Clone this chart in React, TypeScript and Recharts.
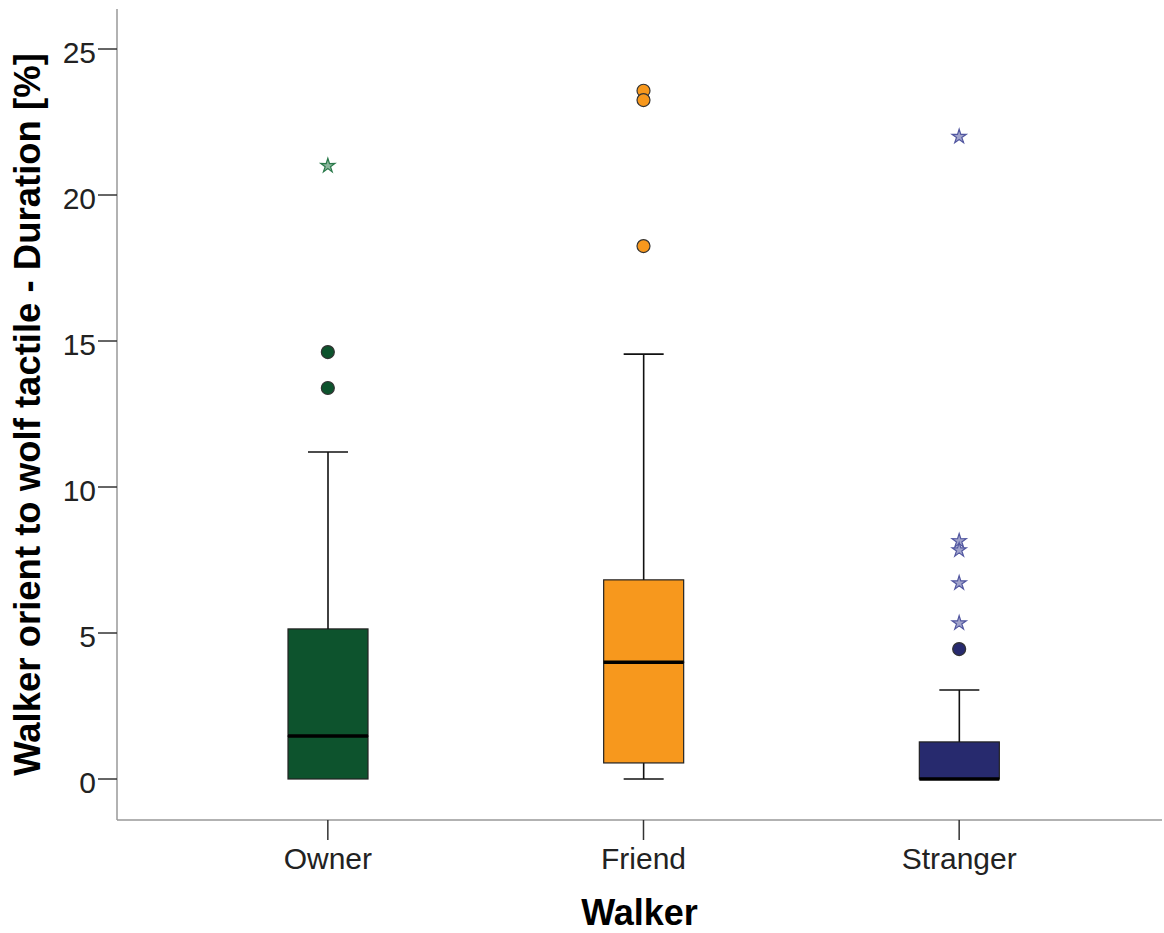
import { Bar, ComposedChart, Label, Scatter, XAxis, YAxis } from "recharts";

const walkers = ["Owner", "Friend", "Stranger"];
const whiskerLow = [0, 0, 0];
const quartile1 = [0, 0.55, 0];
const medians = [1.47, 4.0, 0];
const quartile3 = [5.14, 6.82, 1.27];
const whiskerHigh = [11.2, 14.55, 3.05];
const outlierValues = [[14.62, 13.39], [23.57, 23.25, 18.25], [4.45]];
const extremeValues = [[21.0], [], [22.0, 8.15, 7.84, 6.71, 5.34]];
const yTicks = [0, 5, 10, 15, 20, 25];

const boxFill: Record<string, string> = { Owner: "#0d532d", Friend: "#f7981d", Stranger: "#272a6e" };
const starColor: Record<string, string> = { Owner: "#2b7a4b", Friend: "#f7981d", Stranger: "#5257a0" };

const FONT = "'Liberation Sans', Arial, sans-serif";
const CAP = 20;

// stacked segments: base -> lower whisker -> lower half box -> upper half box -> upper whisker
const boxData = walkers.map((name, i) => ({
  name,
  base: whiskerLow[i],
  lowerWhisker: quartile1[i] - whiskerLow[i],
  lowerBox: medians[i] - quartile1[i],
  upperBox: quartile3[i] - medians[i],
  upperWhisker: whiskerHigh[i] - quartile3[i],
}));

const circleData = walkers.flatMap((name, i) => outlierValues[i].map((value) => ({ name, value })));
const starData = walkers.flatMap((name, i) => extremeValues[i].map((value) => ({ name, value })));

const LowerWhisker = (p: any) => {
  const { x, y, width, height } = p;
  if (!height || height <= 0) return <g />;
  const cx = x + width / 2;
  return (
    <g stroke="#111" strokeWidth={1.6}>
      <line x1={cx} x2={cx} y1={y} y2={y + height} />
      <line x1={cx - CAP} x2={cx + CAP} y1={y + height} y2={y + height} />
    </g>
  );
};

const UpperWhisker = (p: any) => {
  const { x, y, width, height } = p;
  if (!height || height <= 0) return <g />;
  const cx = x + width / 2;
  return (
    <g stroke="#111" strokeWidth={1.6}>
      <line x1={cx} x2={cx} y1={y} y2={y + height} />
      <line x1={cx - CAP} x2={cx + CAP} y1={y} y2={y} />
    </g>
  );
};

const LowerBox = (p: any) => {
  const { x, y, width, height, payload } = p;
  if (!height || height <= 0) return <g />;
  return <rect x={x} y={y} width={width} height={height} fill={boxFill[payload.name]} stroke="#222" strokeWidth={1.2} />;
};

const UpperBox = (p: any) => {
  const { x, y, width, height, payload } = p;
  if (!height || height <= 0) return <g />;
  return (
    <g>
      <rect x={x} y={y} width={width} height={height} fill={boxFill[payload.name]} stroke="#222" strokeWidth={1.2} />
      <line x1={x} x2={x + width} y1={y + height} y2={y + height} stroke="#000" strokeWidth={3.5} />
    </g>
  );
};

const CircleDot = (p: any) => (
  <circle cx={p.cx} cy={p.cy} r={6.5} fill={boxFill[p.payload.name]} stroke="#333" strokeWidth={1.2} />
);

const StarDot = (p: any) => {
  const pts: string[] = [];
  for (let k = 0; k < 10; k++) {
    const r = k % 2 === 0 ? 7.5 : 2.8;
    const a = -Math.PI / 2 + (k * Math.PI) / 5;
    pts.push(`${p.cx + r * Math.cos(a)},${p.cy + r * Math.sin(a)}`);
  }
  const c = starColor[p.payload.name];
  return <polygon points={pts.join(" ")} fill={c} fillOpacity={0.55} stroke={c} strokeWidth={1.2} />;
};

export default function App() {
  return (
    <div style={{ width: 1164, height: 933, background: "#fff" }}>
      <style>{"body{margin:0}"}</style>
      <ComposedChart width={1164} height={933} data={boxData} margin={{ top: 9, right: 2, left: 0, bottom: 0 }}>
        <XAxis
          dataKey="name"
          type="category"
          allowDuplicatedCategory={false}
          padding={{ left: 53, right: 45 }}
          height={113}
          tickSize={20}
          tickMargin={8}
          axisLine={{ stroke: "#999", strokeWidth: 1.5 }}
          tickLine={{ stroke: "#333", strokeWidth: 1.5 }}
          tick={{ fontSize: 30, fill: "#222", fontFamily: FONT }}
        >
          <Label
            content={({ viewBox }: any) => (
              <text
                x={viewBox.x + viewBox.width / 2}
                y={viewBox.y + 105}
                textAnchor="middle"
                fontSize={36}
                fontWeight="bold"
                fontFamily={FONT}
                fill="#000"
              >
                Walker
              </text>
            )}
          />
        </XAxis>
        <YAxis
          type="number"
          domain={[-1.404, 26.37]}
          allowDataOverflow
          ticks={yTicks}
          width={117}
          tickSize={19}
          tickMargin={2}
          axisLine={{ stroke: "#999", strokeWidth: 1.5 }}
          tickLine={{ stroke: "#333", strokeWidth: 1.5 }}
          tick={{ fontSize: 30, fill: "#222", fontFamily: FONT, dy: 3 }}
        >
          <Label
            content={({ viewBox }: any) => (
              <text
                transform={`translate(${viewBox.x + 40}, ${viewBox.y + viewBox.height / 2}) rotate(-90)`}
                textAnchor="middle"
                fontSize={36.5}
                fontWeight="bold"
                fontFamily={FONT}
                fill="#000"
              >
                Walker orient to wolf tactile - Duration [%]
              </text>
            )}
          />
        </YAxis>
        <Bar dataKey="base" stackId="box" barSize={80} fill="transparent" isAnimationActive={false} />
        <Bar dataKey="lowerWhisker" stackId="box" barSize={80} shape={LowerWhisker} isAnimationActive={false} />
        <Bar dataKey="lowerBox" stackId="box" barSize={80} shape={LowerBox} isAnimationActive={false} />
        <Bar dataKey="upperBox" stackId="box" barSize={80} shape={UpperBox} isAnimationActive={false} />
        <Bar dataKey="upperWhisker" stackId="box" barSize={80} shape={UpperWhisker} isAnimationActive={false} />
        <Scatter data={circleData} dataKey="value" shape={CircleDot} isAnimationActive={false} />
        <Scatter data={starData} dataKey="value" shape={StarDot} isAnimationActive={false} />
      </ComposedChart>
    </div>
  );
}
